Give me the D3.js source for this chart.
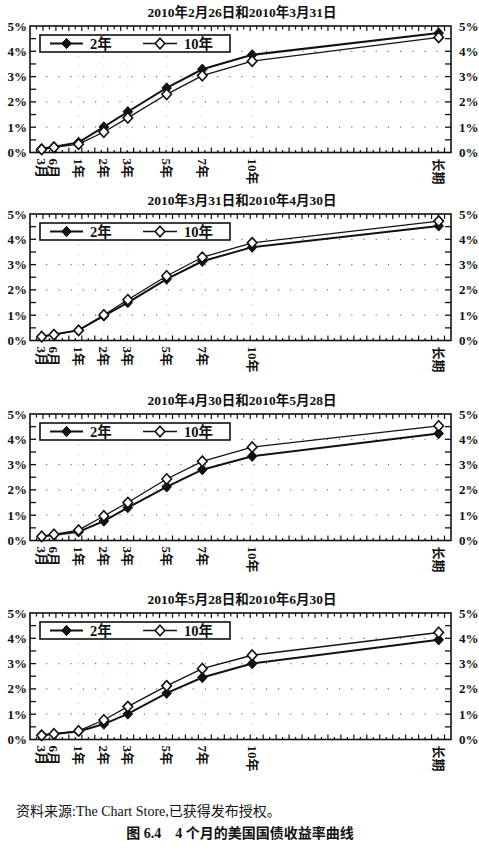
<!DOCTYPE html>
<html><head><meta charset="utf-8">
<script src="https://cdn.jsdelivr.net/npm/d3@7/dist/d3.min.js"></script>
<style>
html,body{margin:0;padding:0;background:#fff;}
svg{display:block;}
text{font-family:'Liberation Serif','Noto Sans CJK SC',serif;fill:#111;}
</style></head>
<body>
<svg id="chart" width="479" height="849"></svg>
<script>
// ---- data ----
const maturities = ["3月","6月","1年","2年","3年","5年","7年","10年","长期"];
// position of each maturity along the chart's horizontal axis (axis units, 0..65)
const axisPos = [1.8, 3.7, 7.5, 11.4, 15.1, 21.1, 26.6, 34.3, 63.1];
const yFeb26 = [0.12, 0.20, 0.33, 0.81, 1.37, 2.30, 3.04, 3.61, 4.55];
const yMar31 = [0.15, 0.23, 0.40, 1.01, 1.61, 2.55, 3.29, 3.86, 4.72];
const yApr30 = [0.16, 0.24, 0.41, 0.97, 1.50, 2.43, 3.13, 3.69, 4.53];
const yMay28 = [0.16, 0.22, 0.34, 0.77, 1.30, 2.12, 2.80, 3.33, 4.23];
const yJun30 = [0.18, 0.22, 0.32, 0.61, 1.01, 1.83, 2.45, 3.00, 3.94];
const titles = ["2010年2月26日和2010年3月31日","2010年3月31日和2010年4月30日",
                "2010年4月30日和2010年5月28日","2010年5月28日和2010年6月30日"];
const firstSeries = [yFeb26, yMar31, yApr30, yMay28];   // open diamonds
const secondSeries = [yMar31, yApr30, yMay28, yJun30];  // filled diamonds
const legendLabels = ["2年","10年"];
const yTicks = [0,1,2,3,4,5];
const yTickLabels = ["0%","1%","2%","3%","4%","5%"];
const sourceText = "资料来源:The Chart Store,已获得发布授权。";
const captionText = "图 6.4\u00a0\u00a0\u00a0\u00a04 个月的美国国债收益率曲线";

// ---- layout ----
const svg = d3.select("#chart");
const left = 30, right = 451, plotH = 126.5;
const tops = [26, 214, 414, 613];
const x = d3.scaleLinear().domain([0, 65]).range([left, right]);
const diamond = "M0,-5.2L4.8,0L0,5.2L-4.8,0Z";

tops.forEach((top, pi) => {
  const bottom = top + plotH;
  const y = d3.scaleLinear().domain([0, 5]).range([bottom, top]);
  const g = svg.append("g");

  // title
  g.append("text").attr("x", 242).attr("y", top - 14).attr("text-anchor", "middle")
    .attr("dominant-baseline", "central").attr("font-size", 13.5).attr("font-weight", "bold")
    .text(titles[pi]);

  // dotted gridlines
  g.selectAll(".hg").data(yTicks.slice(1, 5)).enter().append("line")
    .attr("x1", left + 4).attr("x2", right - 4).attr("y1", d => y(d)).attr("y2", d => y(d))
    .attr("stroke", "#777").attr("stroke-width", 1.2).attr("stroke-dasharray", "1.2,11");
  g.selectAll(".vg").data(axisPos.slice(2, 8)).enter().append("line")
    .attr("x1", d => x(d)).attr("x2", d => x(d)).attr("y1", top + 30).attr("y2", bottom - 4)
    .attr("stroke", "#bbb").attr("stroke-width", 1).attr("stroke-dasharray", "1,9");

  // frame
  g.append("rect").attr("x", left).attr("y", top).attr("width", right - left).attr("height", plotH)
    .attr("fill", "none").attr("stroke", "#111").attr("stroke-width", 1.6);

  // x minor ticks (top & bottom)
  const xt = d3.range(1, 65);
  g.selectAll(".bt").data(xt).enter().append("line")
    .attr("x1", d => x(d)).attr("x2", d => x(d))
    .attr("y1", bottom).attr("y2", d => bottom - (d % 2 === 0 ? 5 : 2.5))
    .attr("stroke", "#111").attr("stroke-width", 1.2);
  g.selectAll(".tt").data(xt).enter().append("line")
    .attr("x1", d => x(d)).attr("x2", d => x(d))
    .attr("y1", top).attr("y2", d => top + (d % 2 === 0 ? 5 : 3.5))
    .attr("stroke", "#111").attr("stroke-width", 1.2);

  // y ticks every 0.5
  const yt = d3.range(0.5, 5, 0.5);
  g.selectAll(".lt").data(yt).enter().append("line")
    .attr("x1", left).attr("x2", left + 6).attr("y1", d => y(d)).attr("y2", d => y(d))
    .attr("stroke", "#111").attr("stroke-width", 1.3);
  g.selectAll(".rt").data(yt).enter().append("line")
    .attr("x1", right).attr("x2", right - 6).attr("y1", d => y(d)).attr("y2", d => y(d))
    .attr("stroke", "#111").attr("stroke-width", 1.3);

  // y labels
  g.selectAll(".yl").data(yTicks).enter().append("text")
    .attr("x", left - 3).attr("y", d => y(d)).attr("text-anchor", "end")
    .attr("dominant-baseline", "central").attr("font-size", 13).attr("font-weight", "bold")
    .text((d, i) => yTickLabels[i]);
  g.selectAll(".yr").data(yTicks).enter().append("text")
    .attr("x", right + 8).attr("y", d => y(d)).attr("text-anchor", "start")
    .attr("dominant-baseline", "central").attr("font-size", 13).attr("font-weight", "bold")
    .text((d, i) => yTickLabels[i]);

  // x labels rotated
  g.selectAll(".xl").data(maturities).enter().append("text")
    .attr("transform", (d, i) => `translate(${x(axisPos[i])},${bottom + 6}) rotate(90)`)
    .attr("text-anchor", "start").attr("dominant-baseline", "central")
    .attr("font-size", 13).attr("font-weight", "bold").text(d => d);

  // lines
  const line = d3.line().x((d, i) => x(axisPos[i])).y(d => y(d));
  g.append("path").attr("d", line(secondSeries[pi])).attr("fill", "none")
    .attr("stroke", "#111").attr("stroke-width", 2);
  g.append("path").attr("d", line(firstSeries[pi])).attr("fill", "none")
    .attr("stroke", "#111").attr("stroke-width", 1.3);

  // markers
  g.selectAll(".mf").data(secondSeries[pi]).enter().append("path")
    .attr("d", diamond).attr("transform", (d, i) => `translate(${x(axisPos[i])},${y(d)})`)
    .attr("fill", "#111").attr("stroke", "#111").attr("stroke-width", 1);
  g.selectAll(".mo").data(firstSeries[pi]).enter().append("path")
    .attr("d", diamond).attr("transform", (d, i) => `translate(${x(axisPos[i])},${y(d)})`)
    .attr("fill", "#fff").attr("stroke", "#111").attr("stroke-width", 1.6);

  // legend
  const ly = top + 17.5;
  g.append("rect").attr("x", 40).attr("y", top + 9).attr("width", 190).attr("height", 17)
    .attr("fill", "#fff").attr("stroke", "#111").attr("stroke-width", 1.6);
  [[50, 83, true], [143, 177, false]].forEach((e, k) => {
    g.append("line").attr("x1", e[0]).attr("x2", e[1]).attr("y1", ly).attr("y2", ly)
      .attr("stroke", "#111").attr("stroke-width", k === 0 ? 2 : 1.3);
    g.append("path").attr("d", diamond).attr("transform", `translate(${(e[0] + e[1]) / 2},${ly})`)
      .attr("fill", e[2] ? "#111" : "#fff").attr("stroke", "#111").attr("stroke-width", e[2] ? 1 : 1.6);
    g.append("text").attr("x", e[1] + 7).attr("y", ly).attr("dominant-baseline", "central")
      .attr("font-size", 14.5).attr("font-weight", "bold").text(legendLabels[k]);
  });
});

// source and caption
svg.append("text").attr("x", 16).attr("y", 811).attr("dominant-baseline", "central")
  .attr("font-size", 14).text(sourceText);
svg.append("text").attr("x", 240).attr("y", 833).attr("text-anchor", "middle")
  .attr("dominant-baseline", "central").attr("font-size", 14).attr("font-weight", "bold")
  .text(captionText);
</script>
</body></html>
